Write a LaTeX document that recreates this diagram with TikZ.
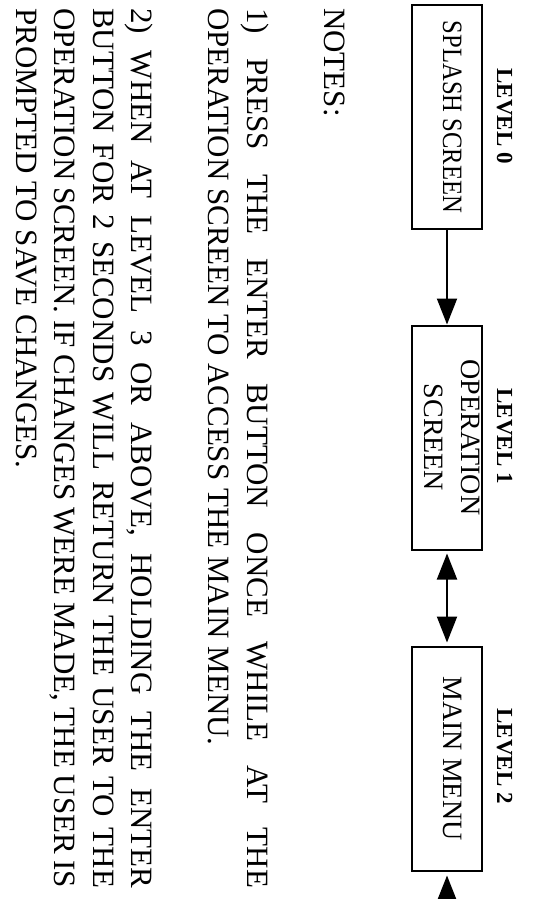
\documentclass[tikz,border=0pt]{standalone}
\usepackage{fontspec}
\setmainfont{Liberation Serif}
\usetikzlibrary{arrows.meta}
\newcommand\jline[1]{\makebox[880pt][s]{#1}}
\begin{document}
\begin{tikzpicture}[x=1pt,y=-1pt,
  box/.style={draw, line width=2pt, rotate=-90, minimum width=224pt, minimum height=70pt,
    inner sep=0pt, text depth=11pt, align=center, font=\fontsize{28}{37}\selectfont},
  lvl/.style={rotate=-90, anchor=base, inner sep=0pt, font=\bfseries\fontsize{23}{28}\selectfont},
  arr/.style={line width=2pt, -{Triangle[length=26pt,width=20pt]}},
  notes/.style={rotate=-90, align=left, inner sep=0pt, font=\fontsize{31}{38.5}\selectfont},
]
\useasboundingbox (0,0) rectangle (533,899);
\node[box] (b0) at (447,117) {\scalebox{0.88}[1]{SPLASH SCREEN}};
\node[box] (b1) at (447,437.5) {OPERATION\\SCREEN};
\node[box] (b2) at (447,758.5) {MAIN MENU};
\node[lvl] (l0) at (497,116) {LEVEL 0};
\node[lvl] (l1) at (497,436) {LEVEL 1};
\node[lvl] (l2) at (497,756) {LEVEL 2};
\coordinate (off) at (447,940);
\draw[arr] (b0.east) -- (b1.west);
\draw[line width=2pt, {Triangle[length=26pt,width=20pt]}-{Triangle[length=26pt,width=20pt]}, shorten <=3pt, shorten >=3pt] (b1.east) -- (b2.west);
\draw[arr, shorten >=4pt] (off) -- (b2.east);
\node[notes, anchor=north west] (notes) at (345,8) {NOTES:\\[38.5pt]
\jline{1) PRESS THE ENTER BUTTON ONCE WHILE AT THE}\\
OPERATION SCREEN TO ACCESS THE MAIN MENU.\\[38.5pt]
\jline{2) WHEN AT LEVEL 3 OR ABOVE, HOLDING THE ENTER}\\
\jline{BUTTON FOR 2 SECONDS WILL RETURN THE USER TO THE}\\
\jline{OPERATION SCREEN. IF CHANGES WERE MADE, THE USER IS}\\
PROMPTED TO SAVE CHANGES.};
\end{tikzpicture}
\end{document}
